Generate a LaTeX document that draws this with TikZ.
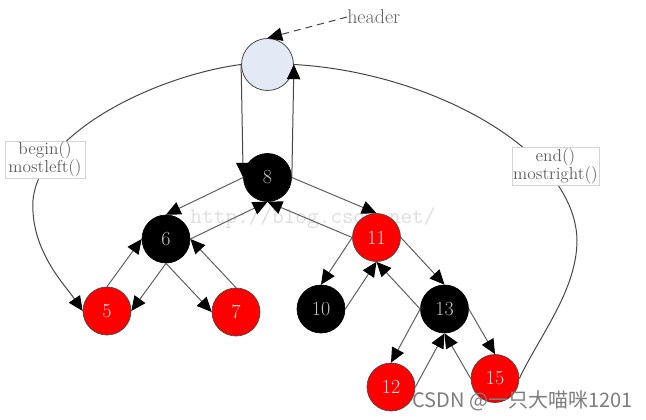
\documentclass[tikz,border=0pt]{standalone}
\usepackage{fontspec}
\newfontfamily\cjkfont{Noto Sans CJK SC}
\usetikzlibrary{arrows.meta}
\definecolor{rednode}{RGB}{255,0,0}
\definecolor{hdrfill}{RGB}{227,234,246}
\definecolor{edgegray}{RGB}{95,95,95}
\definecolor{wmgray}{RGB}{222,222,222}
\definecolor{txtgray}{RGB}{95,95,95}
\definecolor{boxgray}{RGB}{212,212,212}
\definecolor{csdngray}{RGB}{125,125,125}
\definecolor{numblk}{RGB}{195,195,195}
\definecolor{numred}{RGB}{255,228,228}
\definecolor{rimgray}{RGB}{70,70,70}
\begin{document}
\begin{tikzpicture}[x=0.75pt,y=-0.75pt,
  >={Triangle[length=11pt,width=10pt,color=black]},
  blacknode/.style={circle, draw=black, fill=black, line width=0.5pt, minimum size=36pt, inner sep=0pt, text=numblk, font=\fontsize{15}{17}\selectfont},
  rednodest/.style={circle, draw=rimgray, fill=rednode, line width=0.5pt, minimum size=36pt, inner sep=0pt, text=numred, font=\fontsize{15}{17}\selectfont},
  headnode/.style={circle, draw=rimgray, fill=hdrfill, line width=0.6pt, minimum size=39pt, inner sep=0pt},
  treeedge/.style={draw=edgegray, line width=0.75pt, ->},
  curveline/.style={draw=rimgray, line width=0.75pt},
  infobox/.style={draw=boxgray, fill=white, line width=0.5pt, align=center, inner sep=0pt, text=txtgray, font=\fontsize{13}{13.5}\selectfont},
  labeltext/.style={inner sep=0pt, text=txtgray, font=\fontsize{15}{17}\selectfont}
]
\useasboundingbox (0,0) rectangle (646,420);

% faint watermark behind everything
\node[inner sep=0pt, text=wmgray, font=\ttfamily\fontsize{17}{19}\selectfont] (wm1) at (313,218) {http://blog.csdn.net/};

% nodes
\node[headnode] (H) at (267.5,64.5) {};
\node[blacknode] (n8) at (267.5,177.5) {8};
\node[blacknode] (n6) at (166,239) {6};
\node[rednodest] (n11) at (376.5,237.5) {11};
\node[rednodest] (n5) at (107,311) {5};
\node[rednodest] (n7) at (236,312) {7};
\node[blacknode] (n10) at (321,309) {10};
\node[blacknode] (n13) at (444.5,309) {13};
\node[rednodest] (n12) at (391,387) {12};
\node[rednodest] (n15) at (495,378.5) {15};

% header label and dashed pointer
\node[labeltext, anchor=west] (hdr) at (347,17) {header};
\draw[draw=rimgray, line width=0.75pt, dash pattern=on 5.25pt off 3.75pt, ->] (hdr.west) -- (H.north);

% header <-> root
\draw[treeedge, draw=rimgray] (H.west) -- (n8.west);
\draw[treeedge, draw=rimgray] (n8.east) -- (H.east);

% tree edges
\draw[treeedge] (n8.west) -- (n6.north);
\draw[treeedge] (n6.east) -- (n8.south);
\draw[treeedge] (n8.east) -- (n11.north);
\draw[treeedge] (n11.west) -- (n8.south);
\draw[treeedge] (n6.south) -- (n5.east);
\draw[treeedge] (n5.north) -- (n6.west);
\draw[treeedge] (n6.south) -- (n7.west);
\draw[treeedge] (n7.north) -- (n6.east);
\draw[treeedge] (n11.west) -- (n10.north);
\draw[treeedge] (n10.east) -- (n11.south);
\draw[treeedge] (n11.east) -- (n13.north);
\draw[treeedge] (n13.west) -- (n11.south);
\draw[treeedge] (n13.west) -- (n12.north);
\draw[treeedge] (n12.east) -- (n13.south);
\draw[treeedge] (n13.east) -- (n15.north);
\draw[treeedge] (n15.west) -- (n13.south);

% begin / end curves
\coordinate (cL) at (33,200);
\coordinate (cR) at (577,240);
\draw[curveline, ->] (H.west) .. controls (160,75) and (40,130) .. (cL)
   .. controls (30,250) and (65,285) .. (n5.west);
\draw[curveline] (H.east) .. controls (430,72) and (575,150) .. (cR)
   .. controls (577,290) and (540,335) .. (n15.east);

% info boxes on top of curves
\node[infobox, minimum width=60pt, minimum height=27.75pt] (bbox) at (45,159.5) {begin()\\mostleft()};
\node[infobox, minimum width=65.25pt, minimum height=28.5pt] (ebox) at (555.5,166) {end()\\mostright()};

% site watermark
\node[anchor=west, inner sep=0pt, text=csdngray, font=\cjkfont\fontsize{15}{18}\selectfont] (wm2) at (412,401) {CSDN @一只大喵咪1201};
\end{tikzpicture}
\end{document}
